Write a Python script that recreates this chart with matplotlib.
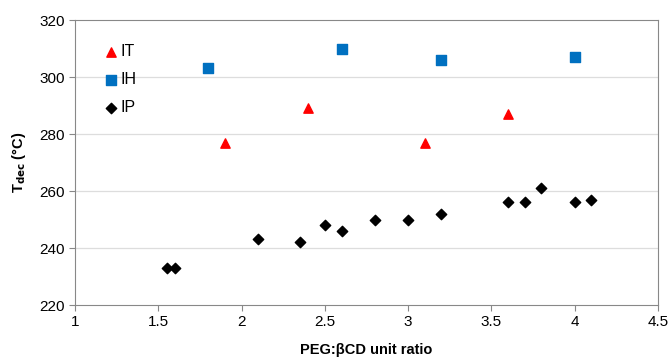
import matplotlib
matplotlib.use('Agg')
import matplotlib.pyplot as plt

plt.rcParams['font.family'] = ['Liberation Sans', 'DejaVu Sans']

# datos
it_x = [1.9, 2.4, 3.1, 3.6]
it_y = [277, 289, 277, 287]
ih_x = [1.8, 2.6, 3.2, 4.0]
ih_y = [303, 310, 306, 307]
ip_x = [1.55, 1.6, 2.1, 2.35, 2.5, 2.6, 2.8, 3.0, 3.2, 3.6, 3.7, 3.8, 4.0, 4.1]
ip_y = [233, 233, 243, 242, 248, 246, 250, 250, 252, 256, 256, 261, 256, 257]

x_ticks = [1, 1.5, 2, 2.5, 3, 3.5, 4, 4.5]
x_labels = ['1', '1.5', '2', '2.5', '3', '3.5', '4', '4.5']
y_ticks = [220, 240, 260, 280, 300, 320]

fig = plt.figure(figsize=(6.7, 3.58), dpi=100)
ax = fig.add_axes([0.112, 0.148, 0.87, 0.796])

ax.scatter(it_x, it_y, marker='^', s=45, color='#ff0000', label='IT', zorder=3)
ax.scatter(ih_x, ih_y, marker='s', s=45, color='#0070c0', label='IH', zorder=3)
ax.scatter(ip_x, ip_y, marker='D', s=28, color='black', label='IP', zorder=3)

ax.set_xlim(1, 4.5)
ax.set_ylim(220, 320)
ax.set_xticks(x_ticks)
ax.set_xticklabels(x_labels)
ax.set_yticks(y_ticks)
ax.tick_params(labelsize=11, color='#888888', length=4, direction='out')
for y in y_ticks[1:-1]:
    ax.axhline(y, color='#dddddd', lw=0.9, zorder=0)
for s in ax.spines.values():
    s.set_color('#888888')

ax.set_xlabel('PEG:\u03b2CD unit ratio', fontsize=10.5, fontweight='bold', labelpad=10)
ax.set_ylabel('T$_{\\mathbf{dec}}$ (°C)', fontsize=10.5, fontweight='bold', labelpad=8)

ax.legend(loc='upper left', bbox_to_anchor=(0.02, 0.965), frameon=False, fontsize=11.5,
          handletextpad=0.0, labelspacing=0.8, handlelength=1.2, scatterpoints=1)

fig.savefig('out.png', dpi=100)
